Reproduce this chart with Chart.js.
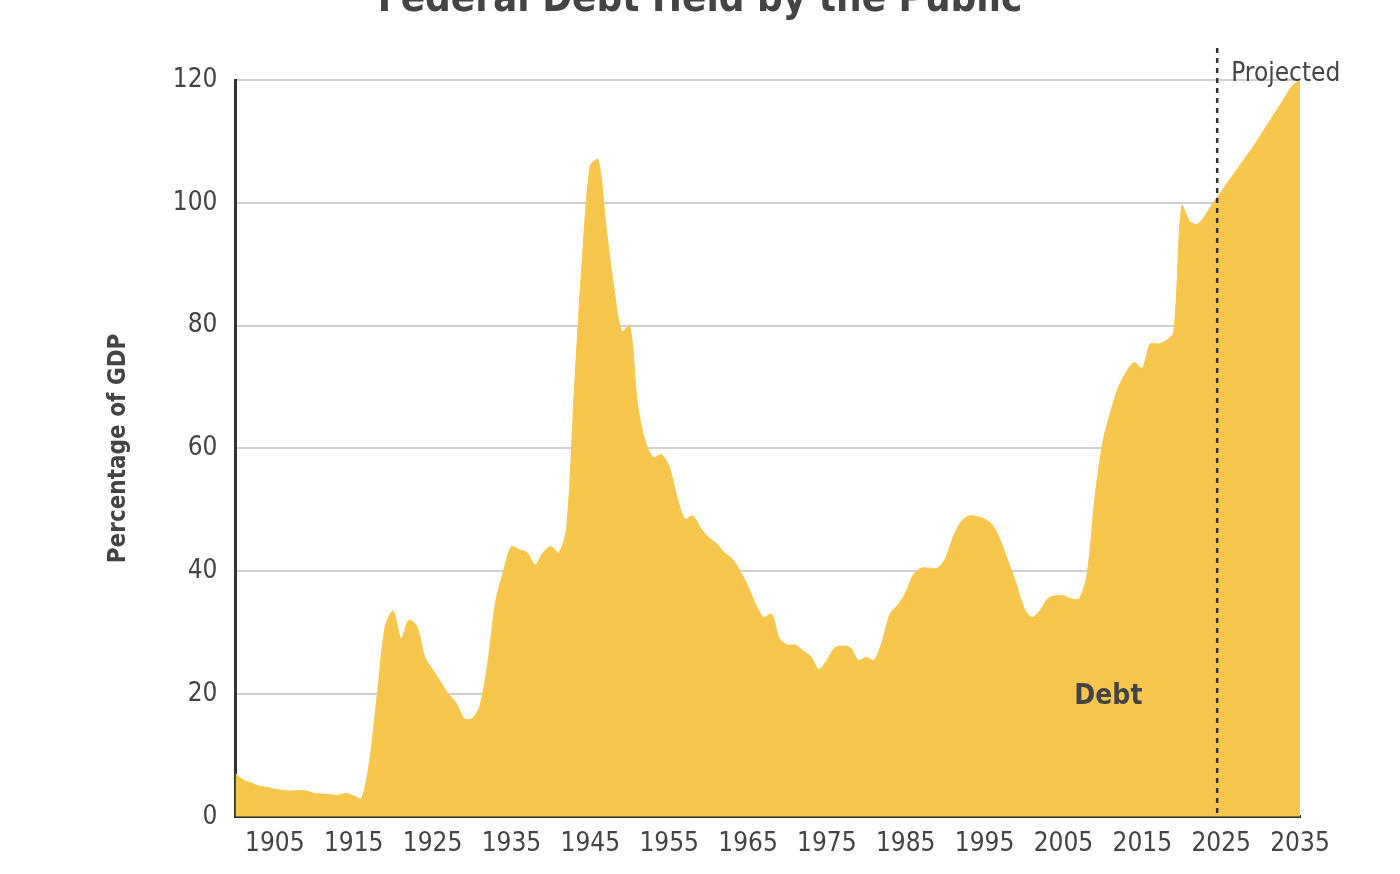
<!DOCTYPE html>
<html>
<head>
<meta charset="utf-8">
<script src="https://cdn.jsdelivr.net/npm/chart.js@4"></script>
<style>
  body { margin: 0; background: #fff; overflow: hidden; }
  .wrap { position: relative; width: 1400px; height: 874px; }
  .title { position: absolute; top: -26px; left: 0; width: 1400px; text-align: center;
           font: bold 40px "Liberation Sans Narrow", "DejaVu Sans Condensed", sans-serif; color: #444; }
</style>
</head>
<body>
<div class="wrap">
  <div class="title">Federal Debt Held by the Public</div>
  <canvas id="chart" width="1400" height="874"></canvas>
</div>
<script>
// Debt held by the public, % of GDP, 1900-2035
const years = [];
for (let y = 1900; y <= 2035; y++) years.push(y);

const debt = [
  7, 6, 5.5, 5, 4.8, 4.5, 4.3, 4.2, 4.3, 4.2,
  3.8, 3.7, 3.6, 3.5, 3.8, 3.4, 3.0, 9, 20, 31,
  33.5, 29, 32, 31, 26, 24, 22, 20, 18.5, 16,
  16, 18, 25, 35, 40, 44, 43.5, 43, 41, 43,
  44, 43, 47, 70, 91, 106, 107, 96, 86, 79,
  80, 67, 61, 58.5, 59, 57, 52, 48.5, 49, 47,
  45.5, 44.5, 43, 42, 40, 37.5, 34.5, 32.5, 33, 29,
  28, 28, 27, 26, 24, 25.5, 27.5, 27.8, 27.5, 25.5,
  26, 25.5, 28.5, 33, 34.5, 36.5, 39.5, 40.5, 40.5, 40.5,
  42, 45.5, 48, 49, 48.9, 48.5, 47.5, 45, 41.5, 38,
  34, 32.5, 33.5, 35.5, 36, 36, 35.5, 35.5, 39.5, 52,
  61, 66, 70, 72.5, 74, 73, 77, 77, 77.5, 79,
  99.5, 97, 96.5, 98, 100, 101.8, 103.6, 105.4, 107.2, 109,
  111, 113, 115, 117, 119, 120
];

const xTicks = [1905, 1915, 1925, 1935, 1945, 1955, 1965, 1975, 1985, 1995, 2005, 2015, 2025, 2035];
const yTicks = [0, 20, 40, 60, 80, 100, 120];
const projectedStart = 2024.5;

const FONT = '"Liberation Sans Narrow", "DejaVu Sans Condensed", sans-serif';
const INK = '#444';

const annotations = {
    id: 'annotations',
    afterDatasetsDraw(chart) {
        const { ctx, scales: { x, y }, chartArea } = chart;
        const px = x.getPixelForValue(projectedStart);
        ctx.save();
        ctx.strokeStyle = '#333';
        ctx.lineWidth = 2.5;
        ctx.setLineDash([5, 5]);
        ctx.beginPath();
        ctx.moveTo(px, 48);
        ctx.lineTo(px, chartArea.bottom);
        ctx.stroke();
        ctx.setLineDash([]);
        ctx.fillStyle = INK;
        ctx.font = '26px ' + FONT;
        ctx.textBaseline = 'middle';
        ctx.fillText('Projected', px + 14, 74);
        ctx.font = 'bold 28px ' + FONT;
        ctx.textAlign = 'center';
        ctx.fillText('Debt', x.getPixelForValue(2010.7), y.getPixelForValue(19.5));
        ctx.restore();
    }
};

new Chart(document.getElementById('chart'), {
    type: 'line',
    data: {
        datasets: [{
            label: 'Debt',
            data: years.map((yr, i) => ({ x: yr, y: debt[i] })),
            fill: 'origin',
            backgroundColor: '#F7C64D',
            borderColor: '#F7C64D',
            borderWidth: 1,
            pointRadius: 0,
            tension: 0.3
        }]
    },
    options: {
        responsive: false,
        animation: false,
        layout: { padding: { top: 80, right: 100, bottom: 10, left: 100 } },
        plugins: { legend: { display: false }, tooltip: { enabled: false } },
        scales: {
            x: {
                type: 'linear',
                min: 1900,
                max: 2035,
                afterBuildTicks: axis => { axis.ticks = xTicks.map(v => ({ value: v })); },
                ticks: { color: INK, font: { family: FONT, size: 26 }, maxRotation: 0, padding: 4,
                         callback: v => String(v) },
                grid: { display: false },
                border: { color: '#333', width: 3 }
            },
            y: {
                min: 0,
                max: 120,
                afterBuildTicks: axis => { axis.ticks = yTicks.map(v => ({ value: v })); },
                ticks: { color: INK, font: { family: FONT, size: 26 }, padding: 18 },
                grid: { color: '#d0d0d0', lineWidth: 2, drawTicks: false },
                border: { color: '#333', width: 3 },
                title: { display: true, text: 'Percentage of GDP', color: INK,
                         font: { family: FONT, size: 24, weight: 'bold' }, padding: { bottom: 22 } }
            }
        }
    },
    plugins: [annotations]
});
</script>
</body>
</html>
